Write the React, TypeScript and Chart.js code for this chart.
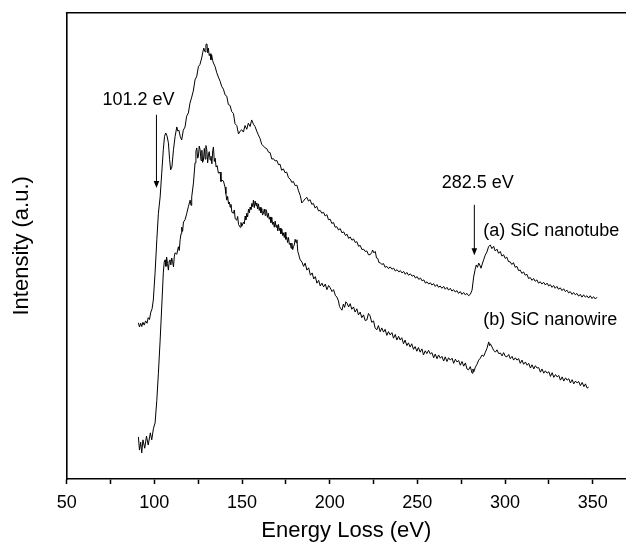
import React, { useEffect, useRef } from "react";
import { Chart, registerables } from "chart.js";

Chart.register(...registerables);

// (a) SiC nanotube — energy (eV)
const nanotubeEnergy = [
  90.9, 91.5, 92.2, 92.8, 93.5, 94.2, 95, 95.8, 96.5, 97.2, 98, 98.7, 99.4, 100.4, 101.4, 102.3, 103.3, 104.2,
  105.1, 105.8, 106.5, 107.2, 108, 108.7, 109.3, 110, 110.9, 111.8, 112.8, 113.4, 114, 114.8, 115.6, 116.5,
  117.5, 118.4, 119.4, 120.3, 121.3, 122.2, 123.2, 124.2, 125.1, 126, 127, 127.6, 128.2, 128.9, 129.4, 130,
  130.4, 130.8, 131.3, 131.8, 132.3, 132.7, 133.2, 133.7, 134.6,
  135.6, 136.5, 137.5, 138.4, 139.4, 140.3, 141.3, 142.2, 143.2, 144.1, 145.1, 146, 147, 148, 148.9, 149.8,
  150.8, 151.7, 152.7, 153.6, 154.6, 155.5, 156.5, 157.4, 158.4, 159.3, 160.3, 161.2, 162.2, 163.2, 164.2,
  165.1, 166, 167, 167.9, 168.9, 169.9, 170.8, 171.7, 172.6, 173.6, 174.5, 175.5, 176.5, 177.5, 178.4, 179.3,
  180.3, 181.3, 182.2, 183.2, 184.1, 185, 186, 187, 187.9, 188.8, 189.8, 190.7, 191.7, 192.6, 193.6, 194.6,
  195.5, 196.5, 197.4, 198.4, 199.3, 200.3, 201.2, 202.2, 203.1, 204.1, 205, 206, 207, 208, 209, 209.9, 210.8,
  211.7, 212.7, 213.6, 214.6, 215.5, 216.5, 217.4, 218.4, 219.3, 220.2, 221.2, 222.1, 223.1, 224, 224.5, 225.2,
  226, 226.7, 227.4, 228.1, 228.8, 229.7, 230.7, 231.6, 232.6, 233.6, 234.5, 235.5, 236.5, 237.4, 238.4, 239.4,
  240.3, 241.2, 242.2, 243.1, 244, 245, 246, 247, 248, 248.9, 249.9, 250.8, 251.8, 252.7, 253.7, 254.6, 255.5,
  256.5, 257.4, 258.3, 259.3, 260.2, 261.2, 262.1, 263, 264, 265, 265.9, 266.9, 267.8, 268.8, 269.7, 270.7,
  271.6, 272.6, 273.5, 274.5, 275.4, 276.4, 277.3, 278.3, 279.2, 280.2, 281.2,
  282.1, 283, 283.6, 284.3, 285, 285.6, 286.3, 287, 287.8, 288.7, 289.7, 290.6, 291.6, 292.5, 293.5, 294.4,
  295.4, 296.3, 297.3, 298.2, 299.2, 300.1, 301, 302, 302.9, 303.9, 304.8, 305.8, 306.8, 307.7, 308.7, 309.6,
  310.6, 311.5, 312.5, 313.4, 314.4, 315.4, 316.3, 317.2, 318.2, 319.1, 320.1, 321, 322, 323, 324, 324.9,
  325.8, 326.8, 327.7, 328.6, 329.6, 330.5, 331.5, 332.5, 333.4, 334.4, 335.3, 336.3, 337.2, 338.2, 339.1,
  340.1, 341, 342, 342.9, 343.9, 344.8, 345.8, 346.7, 347.7, 348.6, 349.6, 350.5, 351.5, 352.5,
];
// (a) SiC nanotube — intensity (a.u.)
const nanotubeIntensity = [
  33.5, 32.6, 33.4, 32.7, 33.6, 33.0, 33.9, 33.4, 34.6, 34.2, 35.8, 36.5, 38.4, 44.2, 51.3, 57.0, 60.5, 65.6,
  70.6, 73.5, 74.2, 73.6, 72.1, 68.5, 66.3, 66.9, 70.6, 73.4, 75.5, 74.6, 74.8, 73.4, 72.7, 74.8,
  75.5, 77.8, 78.5, 80.6, 81.9, 83.2, 85.6, 86.4, 88.4, 88.9, 90.3, 91.5, 92.4, 91.6, 93.2, 93.3,
  91.4, 92.4, 90.8, 91.2, 89.9, 90.9, 89.8, 89.2, 88.5,
  87.1, 86.2, 85.3, 84.2, 83.6, 82.4, 82.1, 80.3, 80.1, 78.8, 78.4, 76.2, 75.8, 74.0, 74.6, 74.9,
  74.4, 75.8, 75.0, 76.3, 75.6, 77.0, 76.1, 75.6, 74.6, 73.8, 73.0, 71.8, 71.4, 71.0, 70.8,
  70.1, 70.0, 68.6, 68.7, 68.2, 68.3, 67.4, 67.5, 66.2, 66.5, 65.7, 65.8, 64.6, 64.3, 63.6, 63.8,
  62.9, 63.0, 61.8, 60.8, 59.2, 59.6, 60.1, 60.4, 59.6, 59.9, 58.9, 59.1, 58.1, 58.5, 57.5, 57.6,
  57.0, 57.2, 56.4, 56.7, 55.6, 55.7, 54.8, 55.0, 54.0, 54.1, 53.4, 53.7, 52.8, 53.0, 52.2, 52.5, 51.6,
  51.9, 51.2, 51.5, 50.7, 50.9, 49.9, 50.1, 49.2, 49.3, 48.8, 48.9, 48.1, 48.1, 48.6, 49.1, 48.5,
  48.8, 47.4, 47.3, 46.4, 46.4, 46.0, 46.2, 45.4, 45.6, 45.1, 45.5, 45.0, 45.2, 44.6, 44.9, 44.4,
  44.7, 44.2, 44.5, 43.9, 44.3, 43.7, 44.0, 43.5, 43.7, 43.1, 43.4, 42.8, 43.1, 42.5, 42.7, 42.0, 42.3,
  41.8, 42.1, 41.6, 41.9, 41.3, 41.7, 41.1, 41.4, 40.9, 41.3, 40.7, 41.1, 40.5, 40.9, 40.3, 40.6,
  40.1, 40.4, 39.8, 40.2, 39.6, 40.0, 39.5, 39.8, 39.3, 39.6, 40.5,
  43.3, 45.0, 45.9, 45.4, 46.3, 45.9, 45.2, 46.1, 47.0, 48.0, 48.7, 49.8, 50.2, 49.4, 49.9, 48.9,
  49.3, 48.4, 48.8, 47.8, 48.1, 47.3, 47.6, 46.6, 46.6, 46.0, 46.4, 45.4, 45.6, 44.7, 44.8, 44.1,
  44.4, 43.7, 43.9, 43.0, 43.2, 42.6, 43.0, 42.4, 42.7, 42.0, 42.3, 41.8, 42.2, 41.6, 42.0, 41.4,
  41.7, 41.1, 41.5, 40.9, 41.3, 40.7, 41.0, 40.4, 40.8, 40.2, 40.5, 39.9, 40.2, 39.6, 40.0,
  39.5, 39.8, 39.2, 39.6, 39.0, 39.5, 39.0, 39.3, 38.8, 39.3, 38.7, 39.1, 38.6, 39.0,
];

// (b) SiC nanowire — energy (eV)
const nanowireEnergy = [
  90.9, 91.5, 92.2, 92.8, 93.5, 94.5, 95.5, 96.5, 97.7, 98.5, 99.5, 100.4,
  101.4, 102.3, 103.3, 104.2, 105.1, 105.6, 106.1, 106.6, 107, 107.5, 108, 108.5, 108.9, 109.4, 109.9, 110.4,
  110.9, 111.4, 111.8, 112.8, 113.7, 114.2, 114.7, 115.2, 115.6, 116.1, 116.6, 117.5, 118.5, 119.4, 120.4,
  120.9, 121.3, 122.3, 123.2, 123.7, 124.2, 124.7, 125.1, 125.6, 126.1, 126.6, 127.1, 127.5, 128, 128.5, 129,
  129.4, 129.9, 130.4, 130.9, 131.3, 131.8, 132.3, 132.8, 133.3, 133.7, 134.2, 134.7, 135.2, 135.8, 136.5,
  137.5, 138, 138.5, 139.4, 140.3, 140.8, 141.3, 141.8, 142.3, 142.8, 143.2, 143.7, 144.2, 145.1, 145.6, 146.1,
  147, 147.5, 148, 148.9, 149.4, 149.9, 150.8, 151.3, 151.8, 152.2, 152.7, 153.2, 153.7, 154.2, 154.6, 155.1,
  155.6, 156.1, 156.5, 157, 157.5, 158, 158.4, 158.9, 159.4, 159.8, 160.3, 160.8, 161.3, 161.7, 162.2, 162.7,
  163.2, 163.6, 164, 164.5, 165, 165.5, 166, 166.5, 167, 167.4, 167.9, 168.4, 168.9, 169.4, 169.9, 170.4,
  170.8, 171.3, 171.7, 172.2, 172.7, 173.2, 173.6, 174.1, 174.6, 175, 175.5, 176, 176.5, 177, 177.5, 178,
  178.4, 178.9, 179.3, 179.8, 180.3, 180.8, 181.3, 181.8, 182.3, 182.8, 183.2, 184.2, 185.1, 186, 187, 188,
  189, 190, 190.9, 191.8, 192.7, 193.7, 194.6, 195.6, 196.5, 197.5, 198.4, 199.4, 200.3, 201.3, 202.2, 203.2,
  204.1, 205, 205.6, 206.2, 207, 207.8, 208.5, 209.2, 209.9, 210.8, 211.7, 212.6, 213.6, 214.5, 215.5, 216.4,
  217.4, 218.3, 219.3, 220.2, 221.2, 222.1, 223, 224, 225, 225.9, 226.9, 227.8, 228.8, 229.7, 230.7, 231.6,
  232.6, 233.5, 234.5, 235.5, 236.4, 237.4, 238.3, 239.3, 240.2, 241.1, 242.1, 243, 244, 244.9, 245.9, 246.8,
  247.8, 248.7, 249.7, 250.6, 251.6, 252.6, 253.5, 254.5, 255.4, 256.4, 257.4, 258.3, 259.3, 260.2, 261.2,
  262.1, 263.1, 264, 265, 265.9, 266.9, 267.8, 268.8, 269.8, 270.7, 271.7, 272.6, 273.6, 274.5, 275.5, 276.4,
  277.4, 278.3, 279.2, 280.2, 281.2, 281.7, 282.2, 283.1, 284, 285, 285.9, 286.9, 287.8, 288.8, 289.7, 290.7,
  291.2, 291.6, 292.6, 293.5, 294.5, 295.4, 296.4, 297.4, 298.3, 299.2, 300.2, 301.1, 302.1, 303, 304, 304.9,
  305.9, 306.8, 307.8, 308.7, 309.7, 310.6, 311.6, 312.6, 313.5, 314.5, 315.4, 316.4, 317.3, 318.3, 319.2,
  320.2, 321.1, 322.1, 323, 324, 325, 325.9, 326.9, 327.8, 328.8, 329.7, 330.7, 331.6, 332.6, 333.5, 334.5,
  335.4, 336.4, 337.3, 338.3, 339.2, 340.2, 341.1, 342, 343, 344, 345, 345.9, 346.8, 347.7,
];
// (b) SiC nanowire — intensity (a.u.)
const nanowireIntensity = [
  9.0, 6.2, 7.9, 5.6, 8.4, 6.6, 9.2, 7.3, 9.9, 8.4, 10.9, 12.0,
  16.9, 22.7, 29.8, 36.9, 44.2, 46.5, 47.0, 45.6, 47.6, 46.2, 44.8, 46.8, 47.0, 45.9, 47.4, 46.6,
  45.5, 47.8, 48.5, 48.2, 49.8, 49.0, 51.3, 52.6, 54.0, 53.1, 55.1, 55.6, 57.0, 58.4, 59.8,
  58.7, 60.5, 63.5, 67.8, 70.3, 71.0, 68.8, 69.1, 71.4, 70.6, 68.3, 70.5, 67.9, 68.4, 70.9, 68.6,
  71.5, 70.6, 67.8, 69.8, 70.2, 68.4, 69.2, 67.6, 70.4, 71.2, 68.1, 68.8, 66.9, 67.2, 65.6,
  65.8, 63.8, 64.1, 63.9, 62.6, 61.2, 59.8, 60.6, 59.0, 59.4, 58.3, 58.9, 57.2, 57.0, 57.7, 55.8,
  55.5, 56.3, 54.6, 54.0, 55.0, 54.2, 55.1, 54.7, 56.4, 55.6, 57.0, 56.2, 57.9, 57.1, 58.3, 57.8,
  59.1, 58.4, 59.8, 58.2, 59.6, 58.6, 59.2, 57.9, 59.0, 57.6, 58.3, 57.1, 58.0, 56.6, 57.0, 57.9,
  56.5, 57.8, 57.5, 56.1, 57.0, 55.7, 56.2, 55.0, 56.1, 54.6, 55.1, 54.0, 55.3, 54.0, 54.5, 53.2,
  54.6, 53.3, 53.8, 52.6, 53.6, 52.2, 52.8, 51.8, 52.9, 51.4, 51.9, 50.7, 51.8, 50.3, 50.6, 49.5,
  50.6, 49.2, 49.8, 50.2, 51.4, 50.7, 51.3, 48.8, 48.2, 47.4, 47.0, 46.5, 45.6, 46.3, 44.8, 45.3,
  43.7, 44.2, 42.9, 43.4, 42.0, 42.6, 41.4, 42.0, 41.2, 41.8, 40.6, 41.5, 41.0, 40.2, 40.6, 39.4,
  39.0, 38.2, 37.0, 36.6, 36.2, 37.5, 36.8, 38.0, 37.7, 36.9, 37.6, 36.4, 36.9, 35.8, 36.5, 35.2,
  35.8, 34.6, 35.2, 34.0, 34.1, 35.5, 35.0, 33.6, 33.9, 32.4, 32.0, 32.9, 31.6, 32.4, 31.5, 32.1,
  30.8, 31.6, 30.9, 31.4, 30.2, 31.0, 29.8, 30.6, 29.8, 30.3, 29.0, 29.8, 28.6, 29.2, 28.3, 29.0,
  27.8, 28.4, 27.4, 28.2, 27.2, 27.9, 26.6, 27.5, 26.9, 27.6, 26.8, 27.1, 26.0, 26.8, 25.8,
  26.6, 25.9, 26.3, 25.3, 26.2, 25.2, 26.0, 25.5, 25.9, 24.8, 25.7, 25.1, 25.4, 24.4, 25.2, 24.2,
  24.9, 23.6, 23.4, 24.1, 22.7, 23.6, 23.0, 24.0, 24.6, 25.5, 25.9, 26.6, 26.3, 27.2, 28.0, 29.4,
  28.6, 29.0, 28.3, 27.6, 27.2, 27.7, 26.9, 27.0, 26.4, 27.1, 26.3, 26.2, 26.7, 25.8, 26.3, 25.5,
  26.0, 25.5, 25.8, 24.8, 25.5, 24.6, 25.1, 24.4, 24.8, 23.8, 24.5, 23.6, 24.3, 23.8, 23.9,
  22.9, 23.6, 22.7, 23.2, 22.7, 23.0, 22.0, 22.8, 21.8, 22.4, 21.9, 22.2, 21.2, 21.9, 21.0, 21.7,
  21.2, 21.5, 20.6, 21.3, 20.4, 21.0, 20.6, 20.9, 20.0, 20.7, 19.8, 20.4, 19.5, 19.7,
];

const xTickValues = [50, 75, 100, 125, 150, 175, 200, 225, 250, 275, 300, 325, 350];
const xTickLabels = ["50", "", "100", "", "150", "", "200", "", "250", "", "300", "", "350"];

const arrowMarks = [
  { label: "101.2 eV", energy: 101.2, from: 78.1, to: 62.4, textX: 91, textY: 81.3 },
  { label: "282.5 eV", energy: 282.5, from: 58.8, to: 48.0, textX: 284.5, textY: 63.5 },
];
const seriesLabels = [
  { text: "(a) SiC nanotube", x: 287.6, y: 53.1 },
  { text: "(b) SiC nanowire", x: 287.6, y: 34.1 },
];

const FONT = '"Liberation Sans", Arial, Helvetica, sans-serif';

const annotationPlugin = {
  id: "annotations",
  afterDraw(chart: any) {
    const { ctx, chartArea, scales } = chart;
    const xs = scales.x;
    const ys = scales.y;
    ctx.save();
    ctx.strokeStyle = "#000";
    ctx.lineWidth = 1.6;
    ctx.beginPath();
    ctx.moveTo(chartArea.left - 0.8, chartArea.top);
    ctx.lineTo(chartArea.right, chartArea.top);
    ctx.stroke();

    ctx.fillStyle = "#000";
    ctx.font = `18px ${FONT}`;
    ctx.textBaseline = "middle";
    for (const a of arrowMarks) {
      const px = xs.getPixelForValue(a.energy);
      const y1 = ys.getPixelForValue(a.from);
      const y2 = ys.getPixelForValue(a.to);
      ctx.lineWidth = 1;
      ctx.beginPath();
      ctx.moveTo(px, y1);
      ctx.lineTo(px, y2 - 6);
      ctx.stroke();
      ctx.beginPath();
      ctx.moveTo(px - 2.8, y2 - 7);
      ctx.lineTo(px + 2.8, y2 - 7);
      ctx.lineTo(px, y2);
      ctx.closePath();
      ctx.fill();
      ctx.textAlign = "center";
      ctx.fillText(a.label, xs.getPixelForValue(a.textX), ys.getPixelForValue(a.textY));
    }
    ctx.textAlign = "left";
    for (const s of seriesLabels) {
      ctx.fillText(s.text, xs.getPixelForValue(s.x), ys.getPixelForValue(s.y));
    }
    ctx.restore();
  },
};

export default function App() {
  const ref = useRef<HTMLCanvasElement>(null);
  useEffect(() => {
    if (!ref.current) return;
    const chart = new Chart(ref.current, {
      type: "line",
      data: {
        datasets: [
          {
            label: "(a) SiC nanotube",
            data: nanotubeEnergy.map((x, i) => ({ x, y: nanotubeIntensity[i] })),
            borderColor: "#000",
            borderWidth: 1,
            pointRadius: 0,
            tension: 0,
            fill: false,
          },
          {
            label: "(b) SiC nanowire",
            data: nanowireEnergy.map((x, i) => ({ x, y: nanowireIntensity[i] })),
            borderColor: "#000",
            borderWidth: 1,
            pointRadius: 0,
            tension: 0,
            fill: false,
          },
        ],
      },
      options: {
        animation: false,
        responsive: false,
        devicePixelRatio: 1,
        layout: { padding: { top: 12.7, right: 0, left: 0, bottom: 0 } },
        plugins: { legend: { display: false }, tooltip: { enabled: false } },
        scales: {
          x: {
            type: "linear",
            min: 50,
            max: 369,
            afterFit: (s: any) => {
              s.height = 64;
            },
            afterBuildTicks: (s: any) => {
              s.ticks = xTickValues.map((v) => ({ value: v }));
            },
            ticks: {
              autoSkip: false,
              maxRotation: 0,
              padding: 8,
              color: "#000",
              font: { family: FONT, size: 18 },
              callback: (v: any) => {
                const i = xTickValues.indexOf(Number(v));
                return i >= 0 ? xTickLabels[i] : "";
              },
            },
            grid: {
              display: true,
              drawOnChartArea: false,
              drawTicks: true,
              tickLength: 5,
              tickColor: "#000",
              tickWidth: 1.5,
            },
            border: { display: true, color: "#000", width: 1.6 },
            title: {
              display: true,
              text: "Energy Loss (eV)",
              color: "#000",
              font: { family: FONT, size: 22, lineHeight: 1 },
              padding: { top: 0, bottom: 1 },
            },
          },
          y: {
            type: "linear",
            min: 0,
            max: 100,
            afterFit: (s: any) => {
              s.width = 66.7;
            },
            ticks: { display: false },
            grid: { display: true, drawOnChartArea: false, drawTicks: false },
            border: { display: true, color: "#000", width: 1.6 },
            title: {
              display: true,
              text: "Intensity (a.u.)",
              color: "#000",
              font: { family: FONT, size: 22, lineHeight: 1.2 },
              padding: { top: 9, bottom: 0 },
            },
          },
        },
      },
      plugins: [annotationPlugin],
    });
    return () => chart.destroy();
  }, []);
  return (
    <div style={{ position: "fixed", left: 0, top: 0, width: 626, height: 543, background: "#fff" }}>
      <canvas ref={ref} width={626} height={543} style={{ width: 626, height: 543, display: "block" }} />
    </div>
  );
}
